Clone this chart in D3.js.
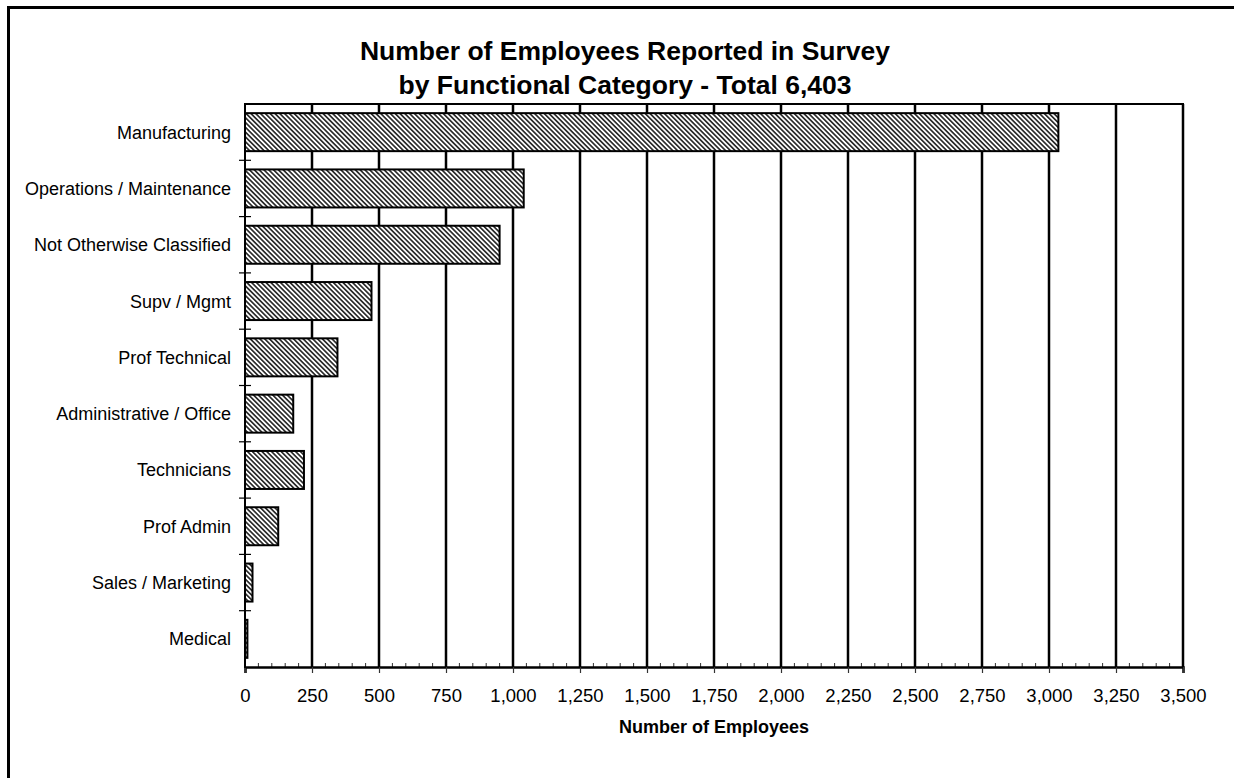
<!DOCTYPE html>
<html>
<head>
<meta charset="utf-8">
<script src="https://cdn.jsdelivr.net/npm/d3@7"></script>
<style>
  body { margin: 0; background: #fff; }
  svg { display: block; font-family: Arial, "Liberation Sans", sans-serif; }
</style>
</head>
<body>
<div id="chart"></div>
<script>
const categories = ["Manufacturing", "Operations / Maintenance", "Not Otherwise Classified",
  "Supv / Mgmt", "Prof Technical", "Administrative / Office", "Technicians",
  "Prof Admin", "Sales / Marketing", "Medical"];
const employees = [3035, 1040, 950, 472, 345, 180, 220, 124, 28, 9];
const xTicks = [0, 250, 500, 750, 1000, 1250, 1500, 1750, 2000, 2250, 2500, 2750, 3000, 3250, 3500];
const titleLines = ["Number of Employees Reported in Survey", "by Functional Category - Total 6,403"];
const xTitle = "Number of Employees";

const width = 1234, height = 778;
const margin = { top: 104, right: 51, bottom: 111, left: 245 };
const innerW = width - margin.left - margin.right;
const innerH = height - margin.top - margin.bottom;

const data = categories.map((c, i) => ({ cat: c, value: employees[i] }));

const svg = d3.select("#chart").append("svg")
  .attr("width", width)
  .attr("height", height);

// hatch fill
svg.append("defs").append("pattern")
  .attr("id", "hatch")
  .attr("patternUnits", "userSpaceOnUse")
  .attr("width", 3.4)
  .attr("height", 3.4)
  .attr("patternTransform", "rotate(-45)")
  .call(p => {
    p.append("rect").attr("width", 3.4).attr("height", 3.4).attr("fill", "#fff");
    p.append("line").attr("x1", 0.85).attr("x2", 0.85).attr("y1", 0).attr("y2", 3.4)
      .attr("stroke", "#111").attr("stroke-width", 1.5);
  });

// outer frame (runs off the right and bottom)
svg.append("rect")
  .attr("x", 8.5).attr("y", 7.5)
  .attr("width", 1400).attr("height", 1000)
  .attr("fill", "none").attr("stroke", "#000").attr("stroke-width", 3);

const g = svg.append("g").attr("transform", `translate(${margin.left},${margin.top})`);

const x = d3.scaleLinear().domain([0, 3500]).range([0, innerW]);
const y = d3.scaleBand().domain(categories).range([0, innerH])
  .paddingInner(0.325).paddingOuter(0.1625);

// vertical gridlines
g.selectAll(".grid").data(xTicks.slice(1)).join("line")
  .attr("class", "grid")
  .attr("x1", d => x(d)).attr("x2", d => x(d))
  .attr("y1", 0).attr("y2", innerH)
  .attr("stroke", "#000").attr("stroke-width", 2.5);

// top border of plot area
g.append("line")
  .attr("x1", -1).attr("x2", innerW + 1)
  .attr("y1", 0).attr("y2", 0)
  .attr("stroke", "#000").attr("stroke-width", 2);

// bars
g.selectAll(".bar").data(data).join("rect")
  .attr("class", "bar")
  .attr("x", x(0))
  .attr("y", d => y(d.cat))
  .attr("width", d => x(d.value) - x(0))
  .attr("height", y.bandwidth())
  .attr("fill", "url(#hatch)")
  .attr("stroke", "#000")
  .attr("stroke-width", 2);

// minor x ticks (inside)
const minor = d3.range(0, 3501, 50).filter(v => v % 250 !== 0);
g.selectAll(".minor").data(minor).join("line")
  .attr("class", "minor")
  .attr("x1", d => x(d)).attr("x2", d => x(d))
  .attr("y1", innerH - 4).attr("y2", innerH)
  .attr("stroke", "#333").attr("stroke-width", 1);

// x axis
const xAxis = g.append("g")
  .attr("transform", `translate(0,${innerH})`)
  .call(d3.axisBottom(x).tickValues(xTicks).tickFormat(d3.format(",")).tickSize(6).tickPadding(16));
xAxis.select(".domain").attr("stroke", "#000").attr("stroke-width", 2.5);
xAxis.selectAll(".tick line").attr("stroke", "#333").attr("stroke-width", 1.2);
xAxis.selectAll(".tick text").attr("font-size", "18.5px").attr("fill", "#000")
  .attr("font-family", "Arial, 'Liberation Sans', sans-serif");

// y axis line
g.append("line")
  .attr("x1", 0).attr("x2", 0).attr("y1", 0).attr("y2", innerH + 1)
  .attr("stroke", "#000").attr("stroke-width", 2);

// y category boundary ticks
const step = y.step();
g.selectAll(".ytick").data(categories.slice(1)).join("line")
  .attr("class", "ytick")
  .attr("x1", -6).attr("x2", 6)
  .attr("y1", d => y(d) - step * y.paddingInner() / 2)
  .attr("y2", d => y(d) - step * y.paddingInner() / 2)
  .attr("stroke", "#000").attr("stroke-width", 1.2);

// y labels
g.selectAll(".ylab").data(data).join("text")
  .attr("class", "ylab")
  .attr("x", -14)
  .attr("y", d => y(d.cat) + y.bandwidth() / 2)
  .attr("dy", "0.36em")
  .attr("text-anchor", "end")
  .attr("font-size", "18px")
  .text(d => d.cat);

// x title
g.append("text")
  .attr("x", innerW / 2)
  .attr("y", innerH + 66)
  .attr("text-anchor", "middle")
  .attr("font-size", "18px")
  .attr("font-weight", "bold")
  .text(xTitle);

// chart title
svg.selectAll(".title").data(titleLines).join("text")
  .attr("class", "title")
  .attr("x", 625)
  .attr("y", (d, i) => 60 + i * 34)
  .attr("text-anchor", "middle")
  .attr("font-size", "26.5px")
  .attr("font-weight", "bold")
  .text(d => d);
</script>
</body>
</html>
